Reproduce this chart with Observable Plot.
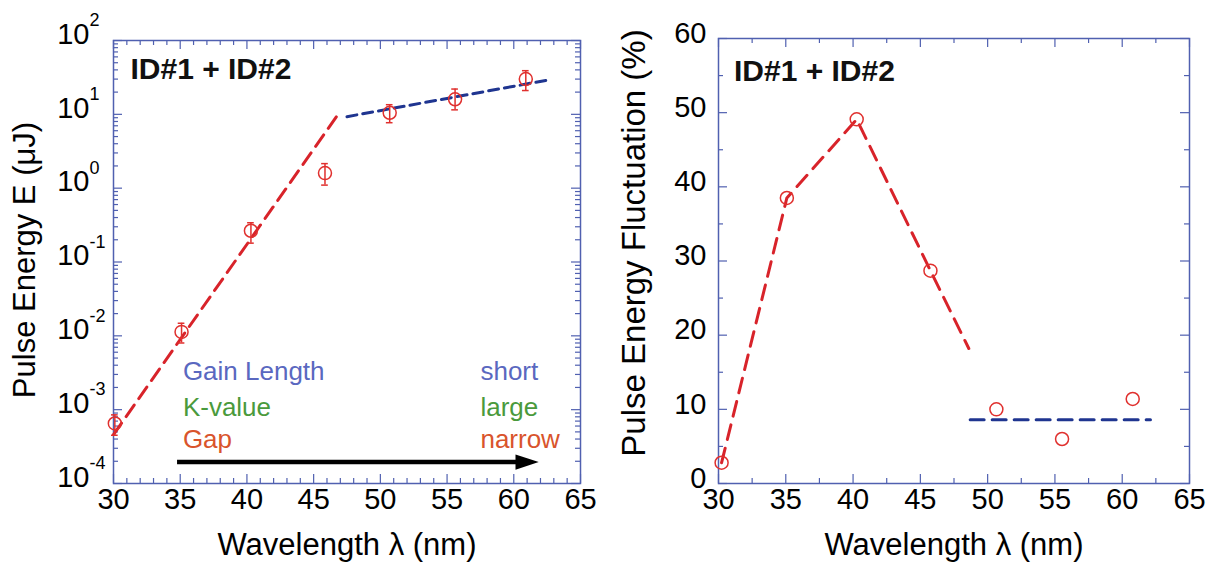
<!DOCTYPE html>
<html><head><meta charset="utf-8">
<script src="https://cdn.jsdelivr.net/npm/d3@7"></script>
<script src="https://cdn.jsdelivr.net/npm/@observablehq/plot@0.6"></script>
<style>
body{margin:0;background:#fff;}
#wrap{position:relative;width:1214px;height:563px;overflow:hidden;background:#fff;}
#left,#right{position:absolute;top:0;}
#left{left:0px;} #right{left:600px;}
</style></head><body><div id="wrap"><div id="left"></div><div id="right"></div></div>
<script>
// ---- Data: left panel (pulse energy, log scale) ----
const wavelength = [30.1, 35.1, 40.3, 45.85, 50.7, 55.6, 60.9];
const energy     = [6.5e-4, 0.0113, 0.265, 1.6, 10.5, 16, 30];
const energyLo   = [4.5e-4, 0.0080, 0.18, 1.10, 7.7, 11.5, 21];
const energyHi   = [8.5e-4, 0.0148, 0.34, 2.15, 13.5, 22, 39];
const growthFitX = [30.0, 46.8];
const growthFitY = [4.6e-4, 9.8];
const satFitX    = [47.5, 62.5];
const satFitY    = [9.3, 29];

// ---- Data: right panel (fluctuation, %) ----
const wavelength2 = [30.23, 35.08, 40.27, 45.75, 50.65, 55.53, 60.78];
const fluctuation = [2.8, 38.5, 49.1, 28.7, 10.0, 6.0, 11.4];
const fluctTrendX = [30.23, 35.08, 40.27, 45.75, 48.6];
const fluctTrendY = [2.8, 38.5, 49.1, 28.7, 18.2];
const plateauX    = [48.7, 62.1];
const plateauY    = [8.6, 8.6];

// ---- Tick labels ----
const xTicks = [30, 35, 40, 45, 50, 55, 60, 65];
const logTicks = [1e-4, 1e-3, 1e-2, 1e-1, 1, 10, 100];
const logExponents = ["-4", "-3", "-2", "-1", "0", "1", "2"];
const fluctTicks = [0, 10, 20, 30, 40, 50, 60];

const FRAME = "#5060b0";
const RED = "#d8232a";
const CIRCLE = "#e0302e";
const NAVY = "#1f3590";
const FONT = "'Liberation Sans', Arial, Helvetica, sans-serif";
const TICKFS = 29, TITLEFS = 31;

const pts = wavelength.map((x, i) => ({x, y: energy[i], lo: energyLo[i], hi: energyHi[i]}));
const growth = growthFitX.map((x, i) => ({x, y: growthFitY[i]}));
const sat = satFitX.map((x, i) => ({x, y: satFitY[i]}));
const pts2 = wavelength2.map((x, i) => ({x, y: fluctuation[i]}));
const trend = fluctTrendX.map((x, i) => ({x, y: fluctTrendY[i]}));
const plateau = plateauX.map((x, i) => ({x, y: plateauY[i]}));

function ticksMarks(xMaj, xMin, yMaj, yMin, W, H) {
  const M = 9, m = 5, s = {stroke: FRAME, strokeWidth: 1.2};
  return [
    Plot.tickX(xMaj, {x: d => d, insetTop: H - M, ...s}),
    Plot.tickX(xMaj, {x: d => d, insetBottom: H - M, ...s}),
    Plot.tickX(xMin, {x: d => d, insetTop: H - m, ...s}),
    Plot.tickX(xMin, {x: d => d, insetBottom: H - m, ...s}),
    Plot.tickY(yMaj, {y: d => d, insetRight: W - M, ...s}),
    Plot.tickY(yMaj, {y: d => d, insetLeft: W - M, ...s}),
    Plot.tickY(yMin, {y: d => d, insetRight: W - m, ...s}),
    Plot.tickY(yMin, {y: d => d, insetLeft: W - m, ...s})
  ];
}

// ---------- Left plot ----------
{
  const width = 600, height = 563, mL = 113, mR = 20, mT = 40, mB = 80;
  const W = width - mL - mR, H = height - mT - mB;
  const xMinor = d3.range(30, 66, 1).filter(v => v % 5 !== 0);
  const yMinor = [];
  for (let e = -4; e < 2; e++) for (let k = 2; k <= 9; k++) yMinor.push(k * Math.pow(10, e));
  const arrowHead = {
    draw(ctx, size) {
      const r = Math.sqrt(size / Math.PI);
      ctx.moveTo(r * 1.45, 0);
      ctx.lineTo(-r * 1.45, -r * 0.95);
      ctx.lineTo(-r * 1.45, r * 0.95);
      ctx.closePath();
    }
  };
  const plot = Plot.plot({
    width, height, marginLeft: mL, marginRight: mR, marginTop: mT, marginBottom: mB,
    style: {fontFamily: FONT, background: "white", color: "black", overflow: "visible"},
    x: {domain: [30, 65], axis: null},
    y: {type: "log", domain: [1e-4, 100], axis: null},
    marks: [
      ...ticksMarks(xTicks, xMinor, logTicks, yMinor, W, H),
      Plot.frame({stroke: FRAME, strokeWidth: 1.5}),
      // tick labels
      Plot.text(xTicks, {x: d => d, frameAnchor: "bottom", lineAnchor: "middle", dy: 16, fontSize: TICKFS, fill: "black"}),
      Plot.text(logTicks, {y: d => d, frameAnchor: "left", lineAnchor: "middle", text: () => "10", textAnchor: "end", dx: -24, dy: -6, fontSize: TICKFS, fill: "black"}),
      Plot.text(logTicks, {y: d => d, frameAnchor: "left", lineAnchor: "middle", text: (d, i) => logExponents[i], textAnchor: "start", dx: -24, dy: -20, fontSize: 18, fill: "black"}),
      // axis titles
      Plot.text(["Wavelength λ (nm)"], {frameAnchor: "bottom", lineAnchor: "middle", textAnchor: "middle", dy: 62, fontSize: TITLEFS, fill: "black"}),
      Plot.text(["Pulse Energy E (μJ)"], {frameAnchor: "left", lineAnchor: "middle", textAnchor: "middle", rotate: -90, dx: -88, dy: -2, fontSize: TITLEFS, fill: "black"}),
      // fits
      Plot.line(growth, {x: "x", y: "y", stroke: RED, strokeWidth: 3, strokeDasharray: "14,8"}),
      Plot.line(sat, {x: "x", y: "y", stroke: NAVY, strokeWidth: 3, strokeDasharray: "10,6"}),
      // error bars
      Plot.ruleX(pts, {x: "x", y1: "lo", y2: "hi", stroke: CIRCLE, strokeWidth: 1.5}),
      Plot.ruleY(pts, {y: "lo", x1: d => d.x - 0.25, x2: d => d.x + 0.25, stroke: CIRCLE, strokeWidth: 1.5}),
      Plot.ruleY(pts, {y: "hi", x1: d => d.x - 0.25, x2: d => d.x + 0.25, stroke: CIRCLE, strokeWidth: 1.5}),
      Plot.dot(pts, {x: "x", y: "y", r: 6.5, stroke: CIRCLE, strokeWidth: 1.5, fill: "none"}),
      // annotations
      Plot.text(["ID#1 + ID#2"], {x: 31.27, y: 41, textAnchor: "start", fontSize: 30, fontWeight: "bold", fill: "#111"}),
      Plot.text(["Gain Length"], {x: 35.2, y: 3.3e-3, textAnchor: "start", fontSize: 26, fill: "#5a68c0"}),
      Plot.text(["short"], {x: 57.5, y: 3.3e-3, textAnchor: "start", fontSize: 26, fill: "#5a68c0"}),
      Plot.text(["K-value"], {x: 35.2, y: 1.08e-3, textAnchor: "start", fontSize: 26, fill: "#4a9a3c"}),
      Plot.text(["large"], {x: 57.5, y: 1.08e-3, textAnchor: "start", fontSize: 26, fill: "#4a9a3c"}),
      Plot.text(["Gap"], {x: 35.2, y: 3.95e-4, textAnchor: "start", fontSize: 26, fill: "#d9542c"}),
      Plot.text(["narrow"], {x: 57.5, y: 3.95e-4, textAnchor: "start", fontSize: 26, fill: "#d9542c"}),
      Plot.ruleY([1.95e-4], {x1: 34.8, x2: 61.0, stroke: "black", strokeWidth: 4.5}),
      Plot.dot([1.95e-4], {x: 61.0, y: d => d, r: 8, symbol: arrowHead, fill: "black", stroke: "none"})
    ]
  });
  document.getElementById("left").appendChild(plot);
}

// ---------- Right plot ----------
{
  const width = 614, height = 563, mL = 118, mR = 25, mT = 38, mB = 80;
  const W = width - mL - mR, H = height - mT - mB;
  const xMinor = d3.range(32.5, 65, 5);
  const yMinor = d3.range(5, 60, 10);
  const plot = Plot.plot({
    width, height, marginLeft: mL, marginRight: mR, marginTop: mT, marginBottom: mB,
    style: {fontFamily: FONT, background: "white", color: "black", overflow: "visible"},
    x: {domain: [30, 65], axis: null},
    y: {domain: [0, 60], axis: null},
    marks: [
      ...ticksMarks(xTicks, xMinor, fluctTicks, yMinor, W, H),
      Plot.frame({stroke: FRAME, strokeWidth: 1.5}),
      Plot.text(xTicks, {x: d => d, frameAnchor: "bottom", lineAnchor: "middle", dy: 16, fontSize: TICKFS, fill: "black"}),
      Plot.text(fluctTicks, {y: d => d, frameAnchor: "left", lineAnchor: "middle", textAnchor: "end", dx: -12, dy: -5, fontSize: TICKFS, fill: "black"}),
      Plot.text(["Wavelength λ (nm)"], {frameAnchor: "bottom", lineAnchor: "middle", textAnchor: "middle", dy: 62, fontSize: TITLEFS, fill: "black"}),
      Plot.text(["Pulse Energy Fluctuation (%)"], {frameAnchor: "left", lineAnchor: "middle", textAnchor: "middle", rotate: -90, dx: -84, dy: -18, fontSize: 33, fill: "black"}),
      Plot.line(trend, {x: "x", y: "y", stroke: RED, strokeWidth: 3, strokeDasharray: "15,9"}),
      Plot.line(plateau, {x: "x", y: "y", stroke: NAVY, strokeWidth: 3, strokeDasharray: "14,8"}),
      Plot.dot(pts2, {x: "x", y: "y", r: 6.5, stroke: CIRCLE, strokeWidth: 1.5, fill: "none"}),
      Plot.text(["ID#1 + ID#2"], {x: 31.15, y: 55.6, textAnchor: "start", fontSize: 30, fontWeight: "bold", fill: "#111"})
    ]
  });
  document.getElementById("right").appendChild(plot);
}
</script></body></html>
